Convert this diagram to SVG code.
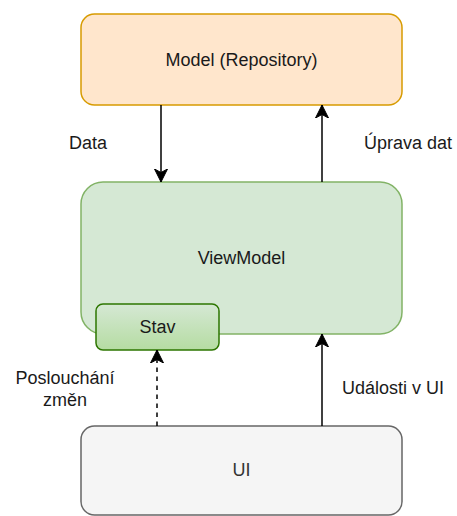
<svg xmlns="http://www.w3.org/2000/svg" width="457" height="516" viewBox="0 0 457 516">
  <style>
    .lbl { font-family: "Liberation Sans", Arial, sans-serif; font-size: 18px; fill: #1a1a1a; }
    .mid { text-anchor: middle; dominant-baseline: central; }
    .edge { stroke: #000; stroke-width: 1.5; fill: none; }
  </style>
  <defs>
    <marker id="arr" markerUnits="userSpaceOnUse" markerWidth="14" markerHeight="14" viewBox="0 0 14 14" refX="13" refY="7" orient="auto">
      <path d="M0,0.5 L13,7 L0,13.5 L3.5,7 Z" fill="#000" stroke="#000" stroke-width="1"/>
    </marker>
    <linearGradient id="gStav" x1="0" y1="0" x2="0" y2="1">
      <stop offset="0" stop-color="#d5e8d4"/>
      <stop offset="1" stop-color="#b5dca2"/>
    </linearGradient>
  </defs>

  <g id="model">
    <rect x="81" y="14" width="321" height="91" rx="13.5" fill="#ffe6cc" stroke="#d79b00" stroke-width="1.5"/>
    <text class="lbl mid" x="241.5" y="60">Model (Repository)</text>
  </g>

  <g id="viewmodel">
    <rect x="81" y="182" width="321" height="152" rx="22" fill="#d5e8d4" stroke="#82b366" stroke-width="1.5"/>
    <text class="lbl mid" x="241.5" y="258">ViewModel</text>
  </g>

  <g id="stav">
    <rect x="96" y="304" width="123" height="46" rx="7" fill="url(#gStav)" stroke="#2d7600" stroke-width="1.5"/>
    <text class="lbl mid" x="157.5" y="327">Stav</text>
  </g>

  <g id="ui">
    <rect x="81" y="426" width="321" height="89" rx="13.5" fill="#f5f5f5" stroke="#666666" stroke-width="1.5"/>
    <text class="lbl mid" x="241.5" y="470" style="fill:#333333">UI</text>
  </g>

  <g id="connectors">
    <line class="edge" x1="161" y1="105" x2="161" y2="182" marker-end="url(#arr)"/>
    <line class="edge" x1="322" y1="182" x2="322" y2="105" marker-end="url(#arr)"/>
    <line class="edge" x1="157" y1="426" x2="157" y2="350" stroke-dasharray="4.5 4.5" marker-end="url(#arr)"/>
    <line class="edge" x1="322" y1="426" x2="322" y2="334" marker-end="url(#arr)"/>
    <text class="lbl mid" x="88" y="143">Data</text>
    <text class="lbl mid" x="408" y="143">Úprava dat</text>
    <text class="lbl mid" x="65" y="378">Poslouchání</text>
    <text class="lbl mid" x="65" y="400">změn</text>
    <text class="lbl mid" x="393" y="388">Události v UI</text>
  </g>
</svg>
